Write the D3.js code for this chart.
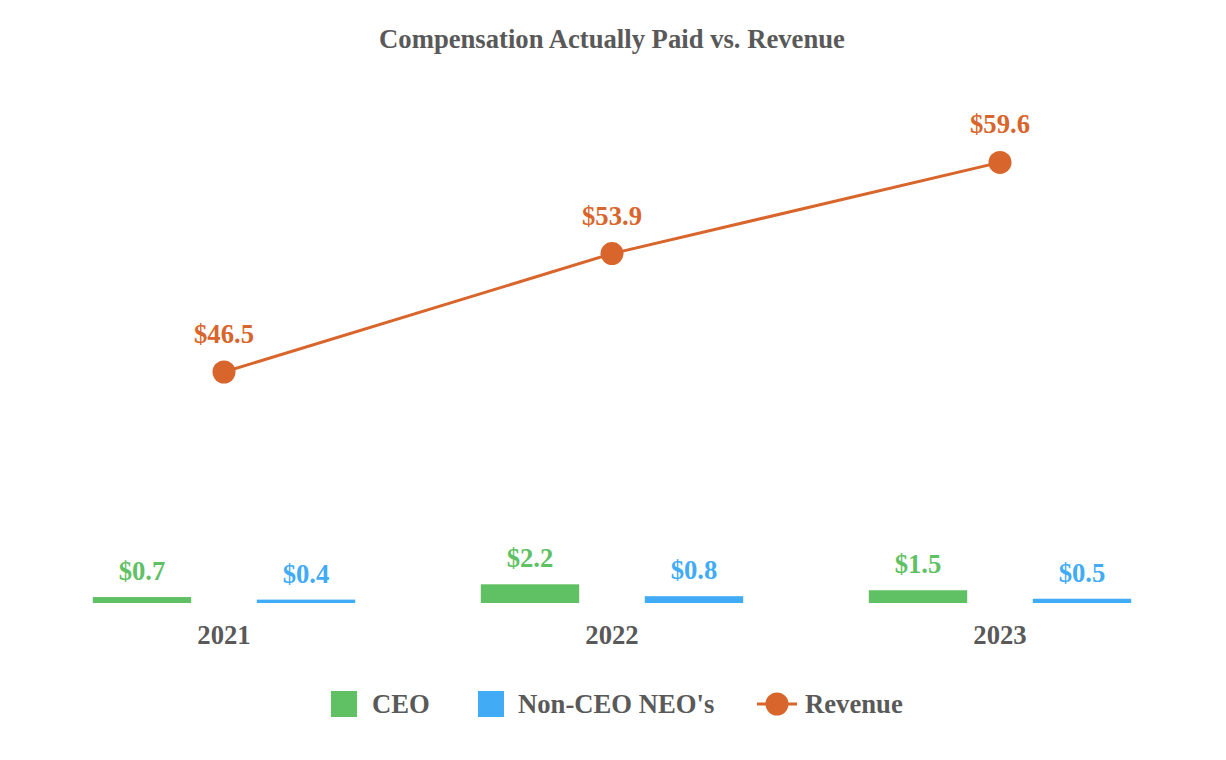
<!DOCTYPE html>
<html><head><meta charset="utf-8">
<script src="https://cdn.jsdelivr.net/npm/d3@7/dist/d3.min.js"></script>
<style>body{margin:0;background:#fff}svg text{font-family:"Liberation Serif","Times New Roman",serif;font-weight:bold}</style>
</head><body><svg id="c" width="1226" height="760"></svg>
<script>
const years = ["2021","2022","2023"];
const series = ["CEO","Non-CEO NEO's"];
const ceo = [0.7, 2.2, 1.5];
const nonCeo = [0.4, 0.8, 0.5];
const revenue = [46.5, 53.9, 59.6];
const colors = {"CEO":"#5fc164","Non-CEO NEO's":"#41abf6", "Revenue":"#d8652b"};
const textGray = "#595959";
const FS = 26.67;

const svg = d3.select("#c");
const x0 = d3.scaleBand().domain(years).range([30,1194]);
const x1 = d3.scaleBand().domain(series).range([0, x0.bandwidth()]).paddingInner(0.4).paddingOuter(0.383);
const yB = d3.scaleLinear().domain([0,10]).range([603,518]);
const yR = d3.scaleLinear().domain([40,60]).range([476,156]);

svg.append("text").attr("x",612).attr("y",48).attr("text-anchor","middle")
  .attr("font-size",FS).attr("fill",textGray).text("Compensation Actually Paid vs. Revenue");

const barData = [];
years.forEach((y,i)=>{ barData.push({year:y,s:"CEO",v:ceo[i]}); barData.push({year:y,s:"Non-CEO NEO's",v:nonCeo[i]}); });
const g = svg.append("g");
g.selectAll("rect").data(barData).join("rect")
  .attr("x",d=>x0(d.year)+x1(d.s)).attr("width",x1.bandwidth())
  .attr("y",d=>yB(d.v)).attr("height",d=>yB(0)-yB(d.v)).attr("fill",d=>colors[d.s]);
g.selectAll("text.bl").data(barData).join("text").attr("class","bl")
  .attr("x",d=>x0(d.year)+x1(d.s)+x1.bandwidth()/2).attr("y",d=>yB(d.v)-17)
  .attr("text-anchor","middle").attr("font-size",FS).attr("fill",d=>colors[d.s])
  .text(d=>"$"+d.v.toFixed(1));

// x axis labels
const xAxis = d3.axisBottom(x0).tickSize(0).tickPadding(0);
const ax = svg.append("g").attr("transform","translate(0,619)").call(xAxis);
ax.select(".domain").remove();
ax.selectAll("text").attr("font-size",FS).attr("fill",textGray).attr("dy","0.95em").attr("font-family",null);

// revenue line
const cx = (d,i)=>x0(years[i])+x0.bandwidth()/2;
svg.append("path").datum(revenue)
  .attr("d", d3.line().x(cx).y(d=>yR(d)))
  .attr("fill","none").attr("stroke",colors.Revenue).attr("stroke-width",3);
svg.selectAll("circle.pt").data(revenue).join("circle").attr("class","pt")
  .attr("cx",cx).attr("cy",d=>yR(d)).attr("r",11.5).attr("fill",colors.Revenue);
svg.selectAll("text.rl").data(revenue).join("text").attr("class","rl")
  .attr("x",cx).attr("y",d=>yR(d)-29).attr("text-anchor","middle")
  .attr("font-size",FS).attr("fill",colors.Revenue).text(d=>"$"+d.toFixed(1));

// legend
const lg = svg.append("g");
lg.append("rect").attr("x",331).attr("y",691).attr("width",26).attr("height",26).attr("fill",colors.CEO);
lg.append("text").attr("x",372).attr("y",713).attr("font-size",FS).attr("fill",textGray).text("CEO");
lg.append("rect").attr("x",478).attr("y",691).attr("width",26).attr("height",26).attr("fill",colors["Non-CEO NEO's"]);
lg.append("text").attr("x",518).attr("y",713).attr("font-size",FS).attr("fill",textGray).text("Non-CEO NEO's");
lg.append("line").attr("x1",757).attr("x2",797).attr("y1",704).attr("y2",704).attr("stroke",colors.Revenue).attr("stroke-width",3);
lg.append("circle").attr("cx",777).attr("cy",704).attr("r",11.5).attr("fill",colors.Revenue);
lg.append("text").attr("x",805).attr("y",713).attr("font-size",FS).attr("fill",textGray).text("Revenue");
</script></body></html>
